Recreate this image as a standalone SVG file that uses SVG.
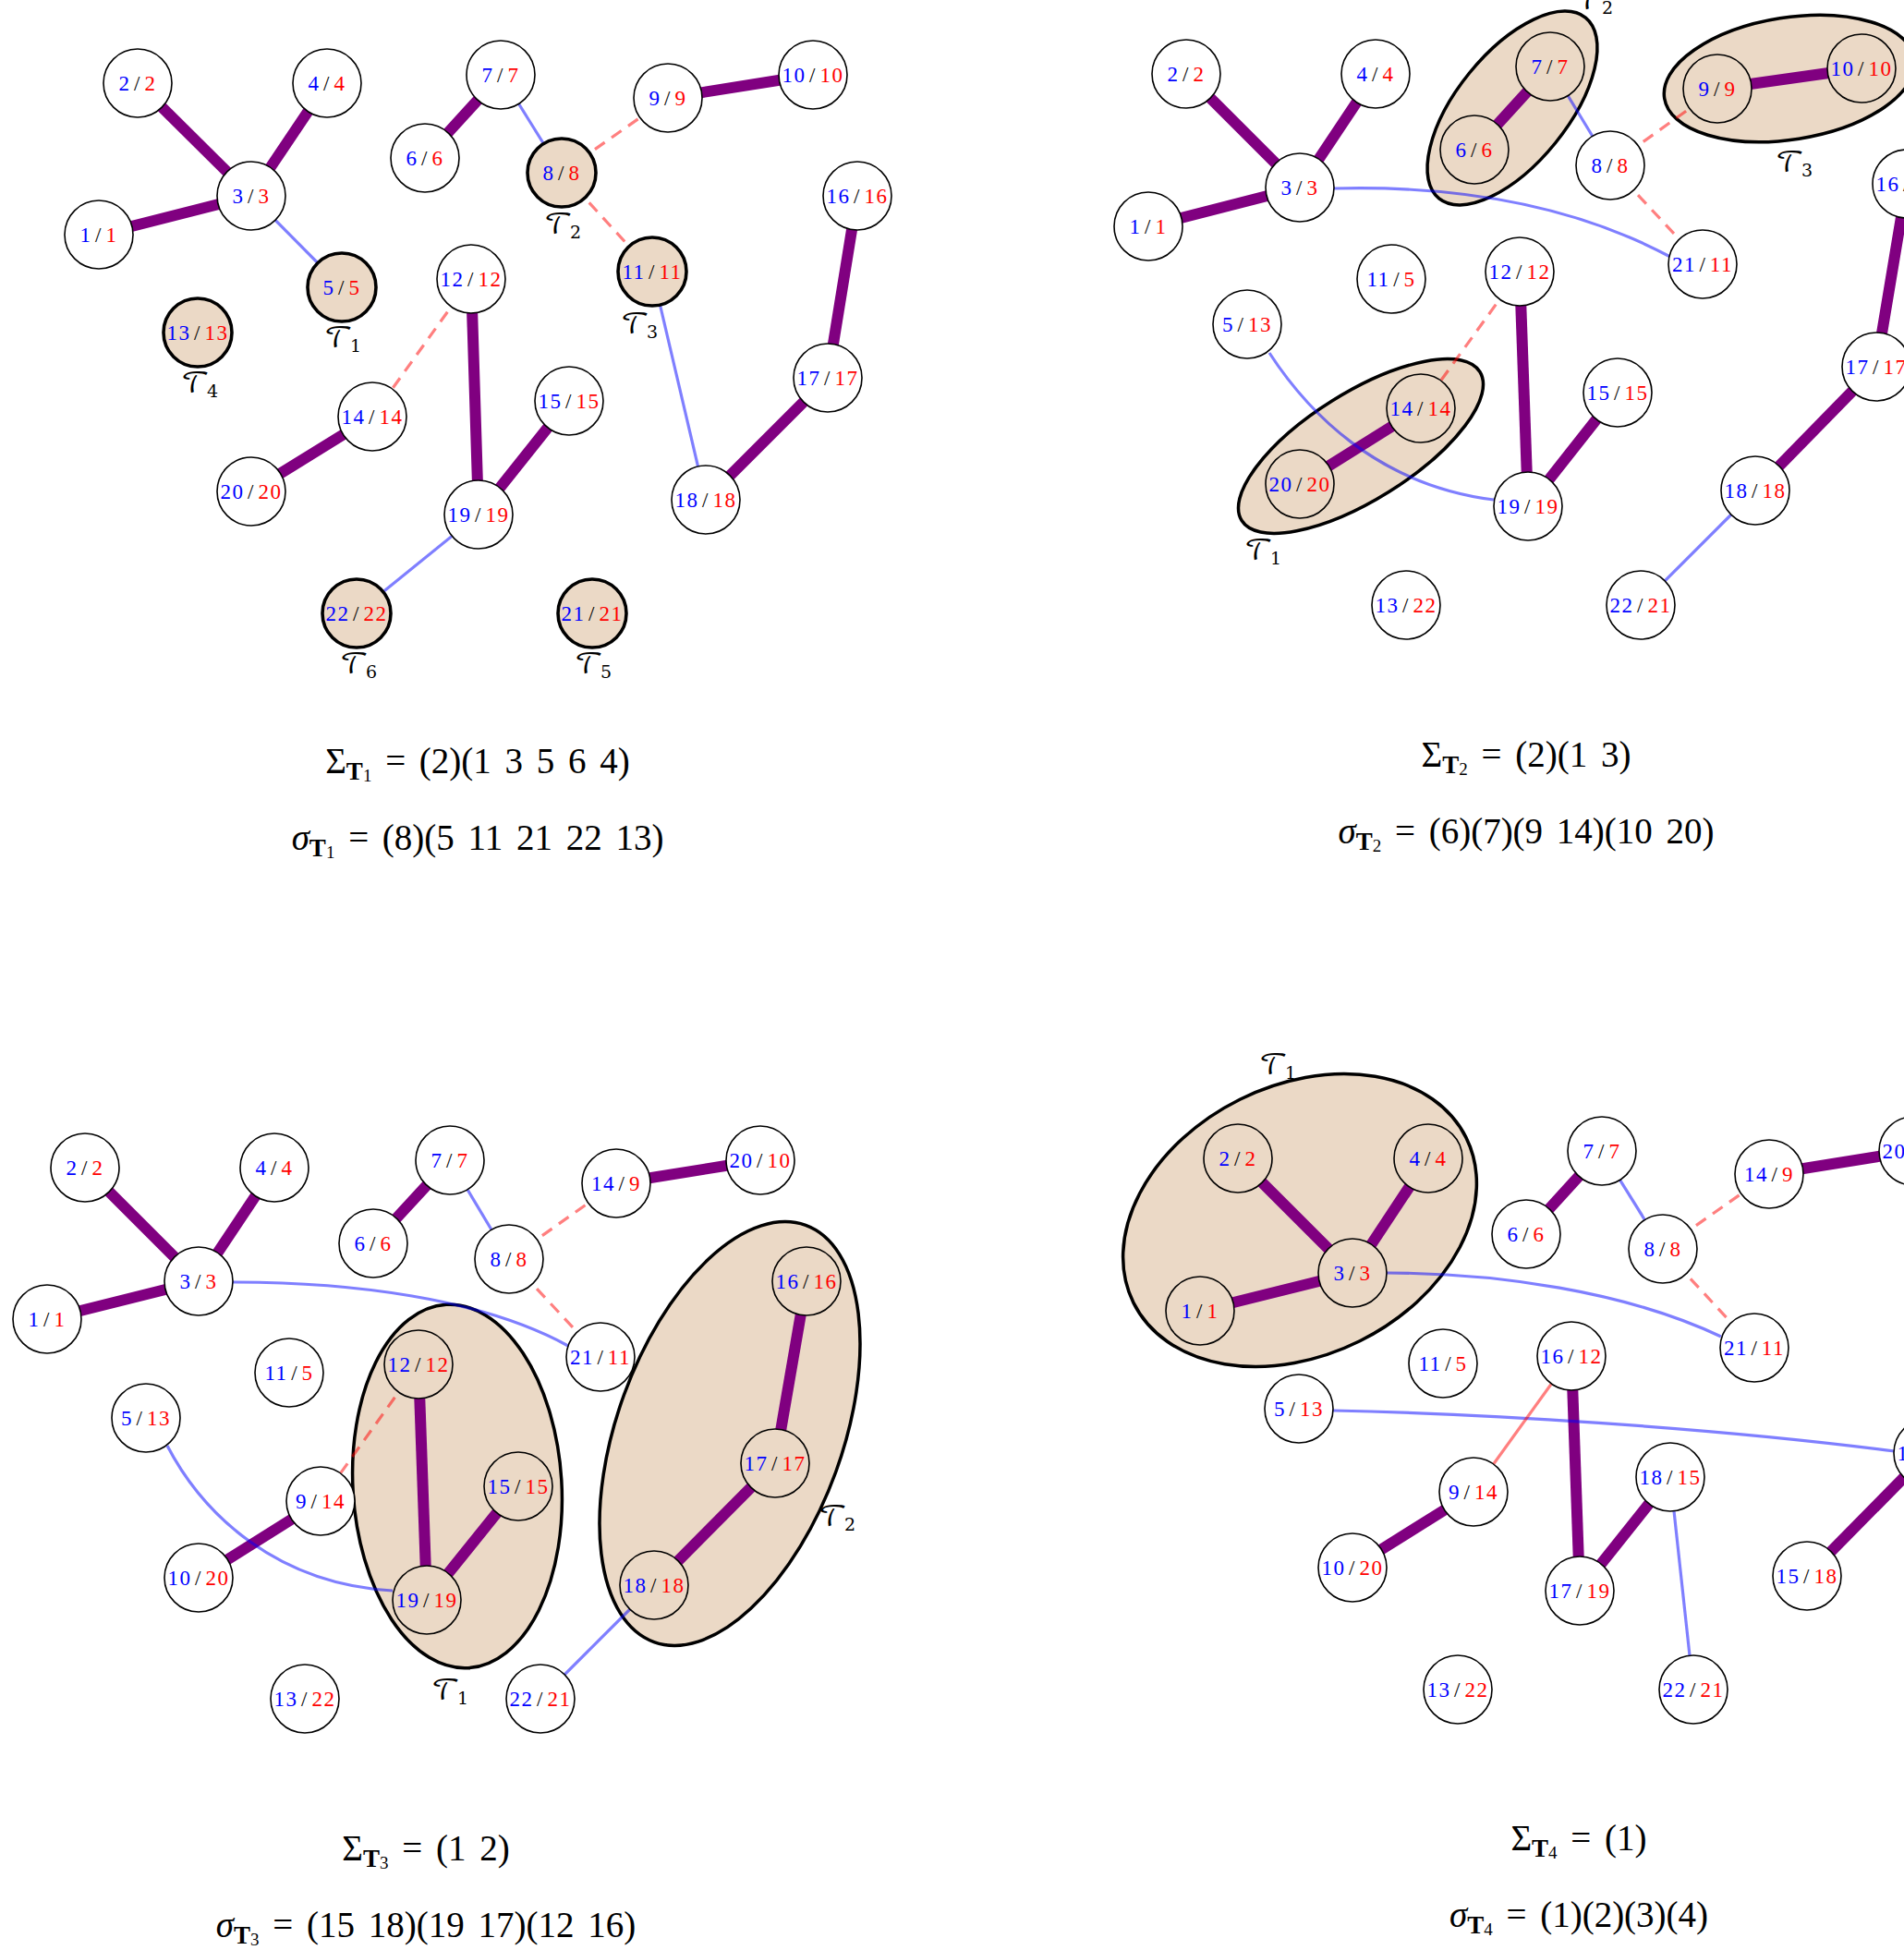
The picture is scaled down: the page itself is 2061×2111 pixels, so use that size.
<svg xmlns="http://www.w3.org/2000/svg" width="2061" height="2111" viewBox="0 0 2061 2111">
<style>
.nd circle{fill:#fff;stroke:#000;stroke-width:1.6}
.nd.in circle{fill:#ebd9c6}
.nd.sh circle{fill:#ebd9c6;stroke-width:3.6}
.nd text{font-family:"Liberation Serif",serif;font-size:23px;letter-spacing:1.5px;text-anchor:middle;fill:#000}
.b{fill:#0000ff}.r{fill:#ff0000}
.th{stroke:#800080;stroke-width:12;fill:none}
.bl{stroke:#0000ff;stroke-opacity:0.5;stroke-width:3.2;fill:none}
.da{stroke:#ff0000;stroke-opacity:0.5;stroke-width:3.2;stroke-dasharray:13 9;fill:none}
.rs{stroke:#ff0000;stroke-opacity:0.5;stroke-width:3.2;fill:none}
.grp{fill:#ebd9c6;stroke:#000;stroke-width:3.5}
.lb{font-family:"DejaVu Math TeX Gyre","DejaVu Serif",serif;font-size:30px;text-anchor:middle;fill:#000}
.lb .sub{font-size:19px}
.fm{font-family:"Liberation Serif",serif;font-size:39px;text-anchor:middle;word-spacing:5px;fill:#000}
.fb{font-size:27px;font-weight:bold}
.fs{font-size:19px}
.it{font-style:italic}
</style>

<!-- group ellipses -->
<g id="groups">
<ellipse id="p2-tau2" class="grp" cx="1637" cy="117" rx="126" ry="60" transform="rotate(-51 1637 117)"/>
<ellipse id="p2-tau3" class="grp" cx="1937" cy="85" rx="137" ry="66" transform="rotate(-9 1937 85)"/>
<ellipse id="p2-tau1" class="grp" cx="1473" cy="483" rx="152" ry="58" transform="rotate(-32 1473 483)"/>
<ellipse id="p3-tau1" class="grp" cx="495" cy="1609" rx="113" ry="197" transform="rotate(-3.5 495 1609)"/>
<ellipse id="p3-tau2" class="grp" cx="790" cy="1552" rx="122" ry="240" transform="rotate(20 790 1552)"/>
<ellipse id="p4-tau1" class="grp" cx="1407" cy="1321" rx="201" ry="146" transform="rotate(-26.4 1407 1321)"/>
</g>

<g id="connectors">
<!-- panel 1 -->
<line class="th" x1="149" y1="90" x2="272" y2="212"/>
<line class="th" x1="354" y1="90" x2="272" y2="212"/>
<line class="th" x1="107" y1="254" x2="272" y2="212"/>
<line class="th" x1="542" y1="81" x2="460" y2="171"/>
<line class="th" x1="723" y1="106" x2="880" y2="81"/>
<line class="th" x1="510" y1="302" x2="518" y2="557"/>
<line class="th" x1="616" y1="434" x2="518" y2="557"/>
<line class="th" x1="403" y1="451" x2="272" y2="532"/>
<line class="th" x1="928" y1="212" x2="896" y2="409"/>
<line class="th" x1="896" y1="409" x2="764" y2="541"/>
<line class="bl" x1="272" y1="212" x2="370" y2="311"/>
<line class="bl" x1="542" y1="81" x2="608" y2="187"/>
<line class="bl" x1="706" y1="294" x2="764" y2="541"/>
<line class="bl" x1="518" y1="557" x2="386" y2="664"/>
<line class="da" x1="608" y1="187" x2="723" y2="106"/>
<line class="da" x1="608" y1="187" x2="706" y2="294"/>
<line class="da" x1="510" y1="302" x2="403" y2="451"/>
<!-- panel 2 -->
<line class="th" x1="1284" y1="80" x2="1407" y2="203"/>
<line class="th" x1="1489" y1="80" x2="1407" y2="203"/>
<line class="th" x1="1243" y1="245" x2="1407" y2="203"/>
<line class="th" x1="1596" y1="162" x2="1678" y2="72"/>
<line class="th" x1="1859" y1="96" x2="2015" y2="74"/>
<line class="th" x1="1538" y1="442" x2="1407" y2="524"/>
<line class="th" x1="1645" y1="294" x2="1654" y2="548"/>
<line class="th" x1="1751" y1="425" x2="1654" y2="548"/>
<line class="th" x1="2064" y1="199" x2="2031" y2="397"/>
<line class="th" x1="2031" y1="397" x2="1900" y2="531"/>
<line class="bl" x1="1678" y1="72" x2="1743" y2="179"/>
<path class="bl" d="M1444,204 C1560,201 1690,215 1808,278"/>
<path class="bl" d="M1374,382 C1415,445 1490,525 1617,541"/>
<line class="bl" x1="1900" y1="531" x2="1776" y2="655"/>
<line class="da" x1="1743" y1="179" x2="1859" y2="96"/>
<line class="da" x1="1743" y1="179" x2="1843" y2="286"/>
<line class="da" x1="1645" y1="294" x2="1538" y2="442"/>
<!-- panel 3 -->
<line class="th" x1="92" y1="1264" x2="215" y2="1387"/>
<line class="th" x1="297" y1="1264" x2="215" y2="1387"/>
<line class="th" x1="51" y1="1428" x2="215" y2="1387"/>
<line class="th" x1="404" y1="1346" x2="487" y2="1256"/>
<line class="th" x1="667" y1="1281" x2="823" y2="1256"/>
<line class="th" x1="347" y1="1625" x2="215" y2="1708"/>
<line class="th" x1="453" y1="1477" x2="462" y2="1732"/>
<line class="th" x1="561" y1="1609" x2="462" y2="1732"/>
<line class="th" x1="873" y1="1387" x2="839" y2="1584"/>
<line class="th" x1="839" y1="1584" x2="708" y2="1716"/>
<line class="bl" x1="487" y1="1256" x2="551" y2="1363"/>
<path class="bl" d="M252,1388 C380,1388 520,1405 615,1457"/>
<path class="bl" d="M181,1565 C220,1640 300,1715 425,1722"/>
<line class="bl" x1="708" y1="1716" x2="585" y2="1839"/>
<line class="da" x1="551" y1="1363" x2="667" y2="1281"/>
<line class="da" x1="551" y1="1363" x2="650" y2="1469"/>
<line class="da" x1="453" y1="1477" x2="347" y2="1625"/>
<!-- panel 4 -->
<line class="th" x1="1340" y1="1254" x2="1464" y2="1378"/>
<line class="th" x1="1546" y1="1254" x2="1464" y2="1378"/>
<line class="th" x1="1299" y1="1419" x2="1464" y2="1378"/>
<line class="th" x1="1652" y1="1336" x2="1734" y2="1246"/>
<line class="th" x1="1915" y1="1271" x2="2071" y2="1246"/>
<line class="th" x1="1595" y1="1615" x2="1464" y2="1697"/>
<line class="th" x1="1701" y1="1468" x2="1710" y2="1722"/>
<line class="th" x1="1808" y1="1599" x2="1710" y2="1722"/>
<line class="th" x1="1956" y1="1706" x2="2087" y2="1573"/>
<line class="bl" x1="1734" y1="1246" x2="1800" y2="1352"/>
<path class="bl" d="M1501,1378 C1620,1378 1760,1398 1863,1447"/>
<path class="bl" d="M1443,1527 C1600,1530 1850,1545 2051,1571"/>
<line class="bl" x1="1808" y1="1599" x2="1833" y2="1829"/>
<line class="da" x1="1800" y1="1352" x2="1915" y2="1271"/>
<line class="da" x1="1800" y1="1352" x2="1899" y2="1459"/>
<line class="rs" x1="1701" y1="1468" x2="1595" y2="1615"/>
</g>

<!-- panel 1 nodes -->
<g id="p1-n1" class="nd"><circle cx="107" cy="254" r="37"/><text x="107" y="262"><tspan class="b">1</tspan><tspan dx="3.5">/</tspan><tspan class="r" dx="3.5">1</tspan></text></g>
<g id="p1-n2" class="nd"><circle cx="149" cy="90" r="37"/><text x="149" y="98"><tspan class="b">2</tspan><tspan dx="3.5">/</tspan><tspan class="r" dx="3.5">2</tspan></text></g>
<g id="p1-n3" class="nd"><circle cx="272" cy="212" r="37"/><text x="272" y="220"><tspan class="b">3</tspan><tspan dx="3.5">/</tspan><tspan class="r" dx="3.5">3</tspan></text></g>
<g id="p1-n4" class="nd"><circle cx="354" cy="90" r="37"/><text x="354" y="98"><tspan class="b">4</tspan><tspan dx="3.5">/</tspan><tspan class="r" dx="3.5">4</tspan></text></g>
<g id="p1-n5" class="nd sh"><circle cx="370" cy="311" r="37"/><text x="370" y="319"><tspan class="b">5</tspan><tspan dx="3.5">/</tspan><tspan class="r" dx="3.5">5</tspan></text></g>
<g id="p1-n6" class="nd"><circle cx="460" cy="171" r="37"/><text x="460" y="179"><tspan class="b">6</tspan><tspan dx="3.5">/</tspan><tspan class="r" dx="3.5">6</tspan></text></g>
<g id="p1-n7" class="nd"><circle cx="542" cy="81" r="37"/><text x="542" y="89"><tspan class="b">7</tspan><tspan dx="3.5">/</tspan><tspan class="r" dx="3.5">7</tspan></text></g>
<g id="p1-n8" class="nd sh"><circle cx="608" cy="187" r="37"/><text x="608" y="195"><tspan class="b">8</tspan><tspan dx="3.5">/</tspan><tspan class="r" dx="3.5">8</tspan></text></g>
<g id="p1-n9" class="nd"><circle cx="723" cy="106" r="37"/><text x="723" y="114"><tspan class="b">9</tspan><tspan dx="3.5">/</tspan><tspan class="r" dx="3.5">9</tspan></text></g>
<g id="p1-n10" class="nd"><circle cx="880" cy="81" r="37"/><text x="880" y="89"><tspan class="b">10</tspan><tspan dx="3.5">/</tspan><tspan class="r" dx="3.5">10</tspan></text></g>
<g id="p1-n11" class="nd sh"><circle cx="706" cy="294" r="37"/><text x="706" y="302"><tspan class="b">11</tspan><tspan dx="3.5">/</tspan><tspan class="r" dx="3.5">11</tspan></text></g>
<g id="p1-n12" class="nd"><circle cx="510" cy="302" r="37"/><text x="510" y="310"><tspan class="b">12</tspan><tspan dx="3.5">/</tspan><tspan class="r" dx="3.5">12</tspan></text></g>
<g id="p1-n13" class="nd sh"><circle cx="214" cy="360" r="37"/><text x="214" y="368"><tspan class="b">13</tspan><tspan dx="3.5">/</tspan><tspan class="r" dx="3.5">13</tspan></text></g>
<g id="p1-n14" class="nd"><circle cx="403" cy="451" r="37"/><text x="403" y="459"><tspan class="b">14</tspan><tspan dx="3.5">/</tspan><tspan class="r" dx="3.5">14</tspan></text></g>
<g id="p1-n15" class="nd"><circle cx="616" cy="434" r="37"/><text x="616" y="442"><tspan class="b">15</tspan><tspan dx="3.5">/</tspan><tspan class="r" dx="3.5">15</tspan></text></g>
<g id="p1-n16" class="nd"><circle cx="928" cy="212" r="37"/><text x="928" y="220"><tspan class="b">16</tspan><tspan dx="3.5">/</tspan><tspan class="r" dx="3.5">16</tspan></text></g>
<g id="p1-n17" class="nd"><circle cx="896" cy="409" r="37"/><text x="896" y="417"><tspan class="b">17</tspan><tspan dx="3.5">/</tspan><tspan class="r" dx="3.5">17</tspan></text></g>
<g id="p1-n18" class="nd"><circle cx="764" cy="541" r="37"/><text x="764" y="549"><tspan class="b">18</tspan><tspan dx="3.5">/</tspan><tspan class="r" dx="3.5">18</tspan></text></g>
<g id="p1-n19" class="nd"><circle cx="518" cy="557" r="37"/><text x="518" y="565"><tspan class="b">19</tspan><tspan dx="3.5">/</tspan><tspan class="r" dx="3.5">19</tspan></text></g>
<g id="p1-n20" class="nd"><circle cx="272" cy="532" r="37"/><text x="272" y="540"><tspan class="b">20</tspan><tspan dx="3.5">/</tspan><tspan class="r" dx="3.5">20</tspan></text></g>
<g id="p1-n21" class="nd sh"><circle cx="641" cy="664" r="37"/><text x="641" y="672"><tspan class="b">21</tspan><tspan dx="3.5">/</tspan><tspan class="r" dx="3.5">21</tspan></text></g>
<g id="p1-n22" class="nd sh"><circle cx="386" cy="664" r="37"/><text x="386" y="672"><tspan class="b">22</tspan><tspan dx="3.5">/</tspan><tspan class="r" dx="3.5">22</tspan></text></g>

<!-- panel 2 nodes -->
<g id="p2-n1" class="nd"><circle cx="1243" cy="245" r="37"/><text x="1243" y="253"><tspan class="b">1</tspan><tspan dx="3.5">/</tspan><tspan class="r" dx="3.5">1</tspan></text></g>
<g id="p2-n2" class="nd"><circle cx="1284" cy="80" r="37"/><text x="1284" y="88"><tspan class="b">2</tspan><tspan dx="3.5">/</tspan><tspan class="r" dx="3.5">2</tspan></text></g>
<g id="p2-n3" class="nd"><circle cx="1407" cy="203" r="37"/><text x="1407" y="211"><tspan class="b">3</tspan><tspan dx="3.5">/</tspan><tspan class="r" dx="3.5">3</tspan></text></g>
<g id="p2-n4" class="nd"><circle cx="1489" cy="80" r="37"/><text x="1489" y="88"><tspan class="b">4</tspan><tspan dx="3.5">/</tspan><tspan class="r" dx="3.5">4</tspan></text></g>
<g id="p2-n6" class="nd in"><circle cx="1596" cy="162" r="37"/><text x="1596" y="170"><tspan class="b">6</tspan><tspan dx="3.5">/</tspan><tspan class="r" dx="3.5">6</tspan></text></g>
<g id="p2-n7" class="nd in"><circle cx="1678" cy="72" r="37"/><text x="1678" y="80"><tspan class="b">7</tspan><tspan dx="3.5">/</tspan><tspan class="r" dx="3.5">7</tspan></text></g>
<g id="p2-n8" class="nd"><circle cx="1743" cy="179" r="37"/><text x="1743" y="187"><tspan class="b">8</tspan><tspan dx="3.5">/</tspan><tspan class="r" dx="3.5">8</tspan></text></g>
<g id="p2-n9" class="nd in"><circle cx="1859" cy="96" r="37"/><text x="1859" y="104"><tspan class="b">9</tspan><tspan dx="3.5">/</tspan><tspan class="r" dx="3.5">9</tspan></text></g>
<g id="p2-n10" class="nd in"><circle cx="2015" cy="74" r="37"/><text x="2015" y="82"><tspan class="b">10</tspan><tspan dx="3.5">/</tspan><tspan class="r" dx="3.5">10</tspan></text></g>
<g id="p2-n16" class="nd"><circle cx="2064" cy="199" r="37"/><text x="2064" y="207"><tspan class="b">16</tspan><tspan dx="3.5">/</tspan><tspan class="r" dx="3.5">16</tspan></text></g>
<g id="p2-n21" class="nd"><circle cx="1843" cy="286" r="37"/><text x="1843" y="294"><tspan class="b">21</tspan><tspan dx="3.5">/</tspan><tspan class="r" dx="3.5">11</tspan></text></g>
<g id="p2-n11" class="nd"><circle cx="1506" cy="302" r="37"/><text x="1506" y="310"><tspan class="b">11</tspan><tspan dx="3.5">/</tspan><tspan class="r" dx="3.5">5</tspan></text></g>
<g id="p2-n12" class="nd"><circle cx="1645" cy="294" r="37"/><text x="1645" y="302"><tspan class="b">12</tspan><tspan dx="3.5">/</tspan><tspan class="r" dx="3.5">12</tspan></text></g>
<g id="p2-n5" class="nd"><circle cx="1350" cy="351" r="37"/><text x="1350" y="359"><tspan class="b">5</tspan><tspan dx="3.5">/</tspan><tspan class="r" dx="3.5">13</tspan></text></g>
<g id="p2-n14" class="nd in"><circle cx="1538" cy="442" r="37"/><text x="1538" y="450"><tspan class="b">14</tspan><tspan dx="3.5">/</tspan><tspan class="r" dx="3.5">14</tspan></text></g>
<g id="p2-n20" class="nd in"><circle cx="1407" cy="524" r="37"/><text x="1407" y="532"><tspan class="b">20</tspan><tspan dx="3.5">/</tspan><tspan class="r" dx="3.5">20</tspan></text></g>
<g id="p2-n15" class="nd"><circle cx="1751" cy="425" r="37"/><text x="1751" y="433"><tspan class="b">15</tspan><tspan dx="3.5">/</tspan><tspan class="r" dx="3.5">15</tspan></text></g>
<g id="p2-n19" class="nd"><circle cx="1654" cy="548" r="37"/><text x="1654" y="556"><tspan class="b">19</tspan><tspan dx="3.5">/</tspan><tspan class="r" dx="3.5">19</tspan></text></g>
<g id="p2-n17" class="nd"><circle cx="2031" cy="397" r="37"/><text x="2031" y="405"><tspan class="b">17</tspan><tspan dx="3.5">/</tspan><tspan class="r" dx="3.5">17</tspan></text></g>
<g id="p2-n18" class="nd"><circle cx="1900" cy="531" r="37"/><text x="1900" y="539"><tspan class="b">18</tspan><tspan dx="3.5">/</tspan><tspan class="r" dx="3.5">18</tspan></text></g>
<g id="p2-n13" class="nd"><circle cx="1522" cy="655" r="37"/><text x="1522" y="663"><tspan class="b">13</tspan><tspan dx="3.5">/</tspan><tspan class="r" dx="3.5">22</tspan></text></g>
<g id="p2-n22" class="nd"><circle cx="1776" cy="655" r="37"/><text x="1776" y="663"><tspan class="b">22</tspan><tspan dx="3.5">/</tspan><tspan class="r" dx="3.5">21</tspan></text></g>

<!-- panel 3 nodes -->
<g id="p3-n1" class="nd"><circle cx="51" cy="1428" r="37"/><text x="51" y="1436"><tspan class="b">1</tspan><tspan dx="3.5">/</tspan><tspan class="r" dx="3.5">1</tspan></text></g>
<g id="p3-n2" class="nd"><circle cx="92" cy="1264" r="37"/><text x="92" y="1272"><tspan class="b">2</tspan><tspan dx="3.5">/</tspan><tspan class="r" dx="3.5">2</tspan></text></g>
<g id="p3-n3" class="nd"><circle cx="215" cy="1387" r="37"/><text x="215" y="1395"><tspan class="b">3</tspan><tspan dx="3.5">/</tspan><tspan class="r" dx="3.5">3</tspan></text></g>
<g id="p3-n4" class="nd"><circle cx="297" cy="1264" r="37"/><text x="297" y="1272"><tspan class="b">4</tspan><tspan dx="3.5">/</tspan><tspan class="r" dx="3.5">4</tspan></text></g>
<g id="p3-n6" class="nd"><circle cx="404" cy="1346" r="37"/><text x="404" y="1354"><tspan class="b">6</tspan><tspan dx="3.5">/</tspan><tspan class="r" dx="3.5">6</tspan></text></g>
<g id="p3-n7" class="nd"><circle cx="487" cy="1256" r="37"/><text x="487" y="1264"><tspan class="b">7</tspan><tspan dx="3.5">/</tspan><tspan class="r" dx="3.5">7</tspan></text></g>
<g id="p3-n8" class="nd"><circle cx="551" cy="1363" r="37"/><text x="551" y="1371"><tspan class="b">8</tspan><tspan dx="3.5">/</tspan><tspan class="r" dx="3.5">8</tspan></text></g>
<g id="p3-n14" class="nd"><circle cx="667" cy="1281" r="37"/><text x="667" y="1289"><tspan class="b">14</tspan><tspan dx="3.5">/</tspan><tspan class="r" dx="3.5">9</tspan></text></g>
<g id="p3-n20" class="nd"><circle cx="823" cy="1256" r="37"/><text x="823" y="1264"><tspan class="b">20</tspan><tspan dx="3.5">/</tspan><tspan class="r" dx="3.5">10</tspan></text></g>
<g id="p3-n21" class="nd"><circle cx="650" cy="1469" r="37"/><text x="650" y="1477"><tspan class="b">21</tspan><tspan dx="3.5">/</tspan><tspan class="r" dx="3.5">11</tspan></text></g>
<g id="p3-n11" class="nd"><circle cx="313" cy="1486" r="37"/><text x="313" y="1494"><tspan class="b">11</tspan><tspan dx="3.5">/</tspan><tspan class="r" dx="3.5">5</tspan></text></g>
<g id="p3-n12" class="nd in"><circle cx="453" cy="1477" r="37"/><text x="453" y="1485"><tspan class="b">12</tspan><tspan dx="3.5">/</tspan><tspan class="r" dx="3.5">12</tspan></text></g>
<g id="p3-n5" class="nd"><circle cx="158" cy="1535" r="37"/><text x="158" y="1543"><tspan class="b">5</tspan><tspan dx="3.5">/</tspan><tspan class="r" dx="3.5">13</tspan></text></g>
<g id="p3-n16" class="nd in"><circle cx="873" cy="1387" r="37"/><text x="873" y="1395"><tspan class="b">16</tspan><tspan dx="3.5">/</tspan><tspan class="r" dx="3.5">16</tspan></text></g>
<g id="p3-n17" class="nd in"><circle cx="839" cy="1584" r="37"/><text x="839" y="1592"><tspan class="b">17</tspan><tspan dx="3.5">/</tspan><tspan class="r" dx="3.5">17</tspan></text></g>
<g id="p3-n15" class="nd in"><circle cx="561" cy="1609" r="37"/><text x="561" y="1617"><tspan class="b">15</tspan><tspan dx="3.5">/</tspan><tspan class="r" dx="3.5">15</tspan></text></g>
<g id="p3-n9" class="nd"><circle cx="347" cy="1625" r="37"/><text x="347" y="1633"><tspan class="b">9</tspan><tspan dx="3.5">/</tspan><tspan class="r" dx="3.5">14</tspan></text></g>
<g id="p3-n10" class="nd"><circle cx="215" cy="1708" r="37"/><text x="215" y="1716"><tspan class="b">10</tspan><tspan dx="3.5">/</tspan><tspan class="r" dx="3.5">20</tspan></text></g>
<g id="p3-n18" class="nd in"><circle cx="708" cy="1716" r="37"/><text x="708" y="1724"><tspan class="b">18</tspan><tspan dx="3.5">/</tspan><tspan class="r" dx="3.5">18</tspan></text></g>
<g id="p3-n19" class="nd in"><circle cx="462" cy="1732" r="37"/><text x="462" y="1740"><tspan class="b">19</tspan><tspan dx="3.5">/</tspan><tspan class="r" dx="3.5">19</tspan></text></g>
<g id="p3-n13" class="nd"><circle cx="330" cy="1839" r="37"/><text x="330" y="1847"><tspan class="b">13</tspan><tspan dx="3.5">/</tspan><tspan class="r" dx="3.5">22</tspan></text></g>
<g id="p3-n22" class="nd"><circle cx="585" cy="1839" r="37"/><text x="585" y="1847"><tspan class="b">22</tspan><tspan dx="3.5">/</tspan><tspan class="r" dx="3.5">21</tspan></text></g>

<!-- panel 4 nodes -->
<g id="p4-n1" class="nd in"><circle cx="1299" cy="1419" r="37"/><text x="1299" y="1427"><tspan class="b">1</tspan><tspan dx="3.5">/</tspan><tspan class="r" dx="3.5">1</tspan></text></g>
<g id="p4-n2" class="nd in"><circle cx="1340" cy="1254" r="37"/><text x="1340" y="1262"><tspan class="b">2</tspan><tspan dx="3.5">/</tspan><tspan class="r" dx="3.5">2</tspan></text></g>
<g id="p4-n3" class="nd in"><circle cx="1464" cy="1378" r="37"/><text x="1464" y="1386"><tspan class="b">3</tspan><tspan dx="3.5">/</tspan><tspan class="r" dx="3.5">3</tspan></text></g>
<g id="p4-n4" class="nd in"><circle cx="1546" cy="1254" r="37"/><text x="1546" y="1262"><tspan class="b">4</tspan><tspan dx="3.5">/</tspan><tspan class="r" dx="3.5">4</tspan></text></g>
<g id="p4-n6" class="nd"><circle cx="1652" cy="1336" r="37"/><text x="1652" y="1344"><tspan class="b">6</tspan><tspan dx="3.5">/</tspan><tspan class="r" dx="3.5">6</tspan></text></g>
<g id="p4-n7" class="nd"><circle cx="1734" cy="1246" r="37"/><text x="1734" y="1254"><tspan class="b">7</tspan><tspan dx="3.5">/</tspan><tspan class="r" dx="3.5">7</tspan></text></g>
<g id="p4-n8" class="nd"><circle cx="1800" cy="1352" r="37"/><text x="1800" y="1360"><tspan class="b">8</tspan><tspan dx="3.5">/</tspan><tspan class="r" dx="3.5">8</tspan></text></g>
<g id="p4-n14" class="nd"><circle cx="1915" cy="1271" r="37"/><text x="1915" y="1279"><tspan class="b">14</tspan><tspan dx="3.5">/</tspan><tspan class="r" dx="3.5">9</tspan></text></g>
<g id="p4-n20" class="nd"><circle cx="2071" cy="1246" r="37"/><text x="2071" y="1254"><tspan class="b">20</tspan><tspan dx="3.5">/</tspan><tspan class="r" dx="3.5">10</tspan></text></g>
<g id="p4-n21" class="nd"><circle cx="1899" cy="1459" r="37"/><text x="1899" y="1467"><tspan class="b">21</tspan><tspan dx="3.5">/</tspan><tspan class="r" dx="3.5">11</tspan></text></g>
<g id="p4-n11" class="nd"><circle cx="1562" cy="1476" r="37"/><text x="1562" y="1484"><tspan class="b">11</tspan><tspan dx="3.5">/</tspan><tspan class="r" dx="3.5">5</tspan></text></g>
<g id="p4-n16" class="nd"><circle cx="1701" cy="1468" r="37"/><text x="1701" y="1476"><tspan class="b">16</tspan><tspan dx="3.5">/</tspan><tspan class="r" dx="3.5">12</tspan></text></g>
<g id="p4-n5" class="nd"><circle cx="1406" cy="1525" r="37"/><text x="1406" y="1533"><tspan class="b">5</tspan><tspan dx="3.5">/</tspan><tspan class="r" dx="3.5">13</tspan></text></g>
<g id="p4-n9" class="nd"><circle cx="1595" cy="1615" r="37"/><text x="1595" y="1623"><tspan class="b">9</tspan><tspan dx="3.5">/</tspan><tspan class="r" dx="3.5">14</tspan></text></g>
<g id="p4-n10" class="nd"><circle cx="1464" cy="1697" r="37"/><text x="1464" y="1705"><tspan class="b">10</tspan><tspan dx="3.5">/</tspan><tspan class="r" dx="3.5">20</tspan></text></g>
<g id="p4-n17" class="nd"><circle cx="1710" cy="1722" r="37"/><text x="1710" y="1730"><tspan class="b">17</tspan><tspan dx="3.5">/</tspan><tspan class="r" dx="3.5">19</tspan></text></g>
<g id="p4-n18" class="nd"><circle cx="1808" cy="1599" r="37"/><text x="1808" y="1607"><tspan class="b">18</tspan><tspan dx="3.5">/</tspan><tspan class="r" dx="3.5">15</tspan></text></g>
<g id="p4-n22" class="nd"><circle cx="1833" cy="1829" r="37"/><text x="1833" y="1837"><tspan class="b">22</tspan><tspan dx="3.5">/</tspan><tspan class="r" dx="3.5">21</tspan></text></g>
<g id="p4-n13" class="nd"><circle cx="1578" cy="1829" r="37"/><text x="1578" y="1837"><tspan class="b">13</tspan><tspan dx="3.5">/</tspan><tspan class="r" dx="3.5">22</tspan></text></g>
<g id="p4-n15" class="nd"><circle cx="1956" cy="1706" r="37"/><text x="1956" y="1714"><tspan class="b">15</tspan><tspan dx="3.5">/</tspan><tspan class="r" dx="3.5">18</tspan></text></g>
<g id="p4-n19" class="nd"><circle cx="2087" cy="1573" r="37"/><text x="2087" y="1581"><tspan class="b">19</tspan><tspan dx="3.5">/</tspan><tspan class="r" dx="3.5">17</tspan></text></g>

<!-- group labels -->
<g id="labels">
<text class="lb" x="371" y="376">𝒯<tspan class="sub" dx="-3" dy="5">1</tspan></text>
<text class="lb" x="216" y="425">𝒯<tspan class="sub" dx="-3" dy="5">4</tspan></text>
<text class="lb" x="609" y="253">𝒯<tspan class="sub" dx="-3" dy="5">2</tspan></text>
<text class="lb" x="692" y="361">𝒯<tspan class="sub" dx="-3" dy="5">3</tspan></text>
<text class="lb" x="388" y="729">𝒯<tspan class="sub" dx="-3" dy="5">6</tspan></text>
<text class="lb" x="642" y="729">𝒯<tspan class="sub" dx="-3" dy="5">5</tspan></text>
<text class="lb" x="1726" y="10">𝒯<tspan class="sub" dx="-3" dy="5">2</tspan></text>
<text class="lb" x="1942" y="186">𝒯<tspan class="sub" dx="-3" dy="5">3</tspan></text>
<text class="lb" x="1367" y="606">𝒯<tspan class="sub" dx="-3" dy="5">1</tspan></text>
<text class="lb" x="487" y="1840">𝒯<tspan class="sub" dx="-3" dy="5">1</tspan></text>
<text class="lb" x="906" y="1652">𝒯<tspan class="sub" dx="-3" dy="5">2</tspan></text>
<text class="lb" x="1383" y="1163">𝒯<tspan class="sub" dx="-3" dy="5">1</tspan></text>
</g>

<!-- formulas -->
<g id="formulas">
<text class="fm" x="517" y="837">Σ<tspan class="fb" dy="7">T</tspan><tspan class="fs" dy="2">1</tspan><tspan dy="-9"> = (2)(1 3 5 6 4)</tspan></text>
<text class="fm" x="517" y="920"><tspan class="it">σ</tspan><tspan class="fb" dy="7">T</tspan><tspan class="fs" dy="2">1</tspan><tspan dy="-9"> = (8)(5 11 21 22 13)</tspan></text>
<text class="fm" x="1652" y="830">Σ<tspan class="fb" dy="7">T</tspan><tspan class="fs" dy="2">2</tspan><tspan dy="-9"> = (2)(1 3)</tspan></text>
<text class="fm" x="1652" y="913"><tspan class="it">σ</tspan><tspan class="fb" dy="7">T</tspan><tspan class="fs" dy="2">2</tspan><tspan dy="-9"> = (6)(7)(9 14)(10 20)</tspan></text>
<text class="fm" x="461" y="2014">Σ<tspan class="fb" dy="7">T</tspan><tspan class="fs" dy="2">3</tspan><tspan dy="-9"> = (1 2)</tspan></text>
<text class="fm" x="461" y="2097"><tspan class="it">σ</tspan><tspan class="fb" dy="7">T</tspan><tspan class="fs" dy="2">3</tspan><tspan dy="-9"> = (15 18)(19 17)(12 16)</tspan></text>
<text class="fm" x="1709" y="2003">Σ<tspan class="fb" dy="7">T</tspan><tspan class="fs" dy="2">4</tspan><tspan dy="-9"> = (1)</tspan></text>
<text class="fm" x="1709" y="2086"><tspan class="it">σ</tspan><tspan class="fb" dy="7">T</tspan><tspan class="fs" dy="2">4</tspan><tspan dy="-9"> = (1)(2)(3)(4)</tspan></text>
</g>
</svg>
